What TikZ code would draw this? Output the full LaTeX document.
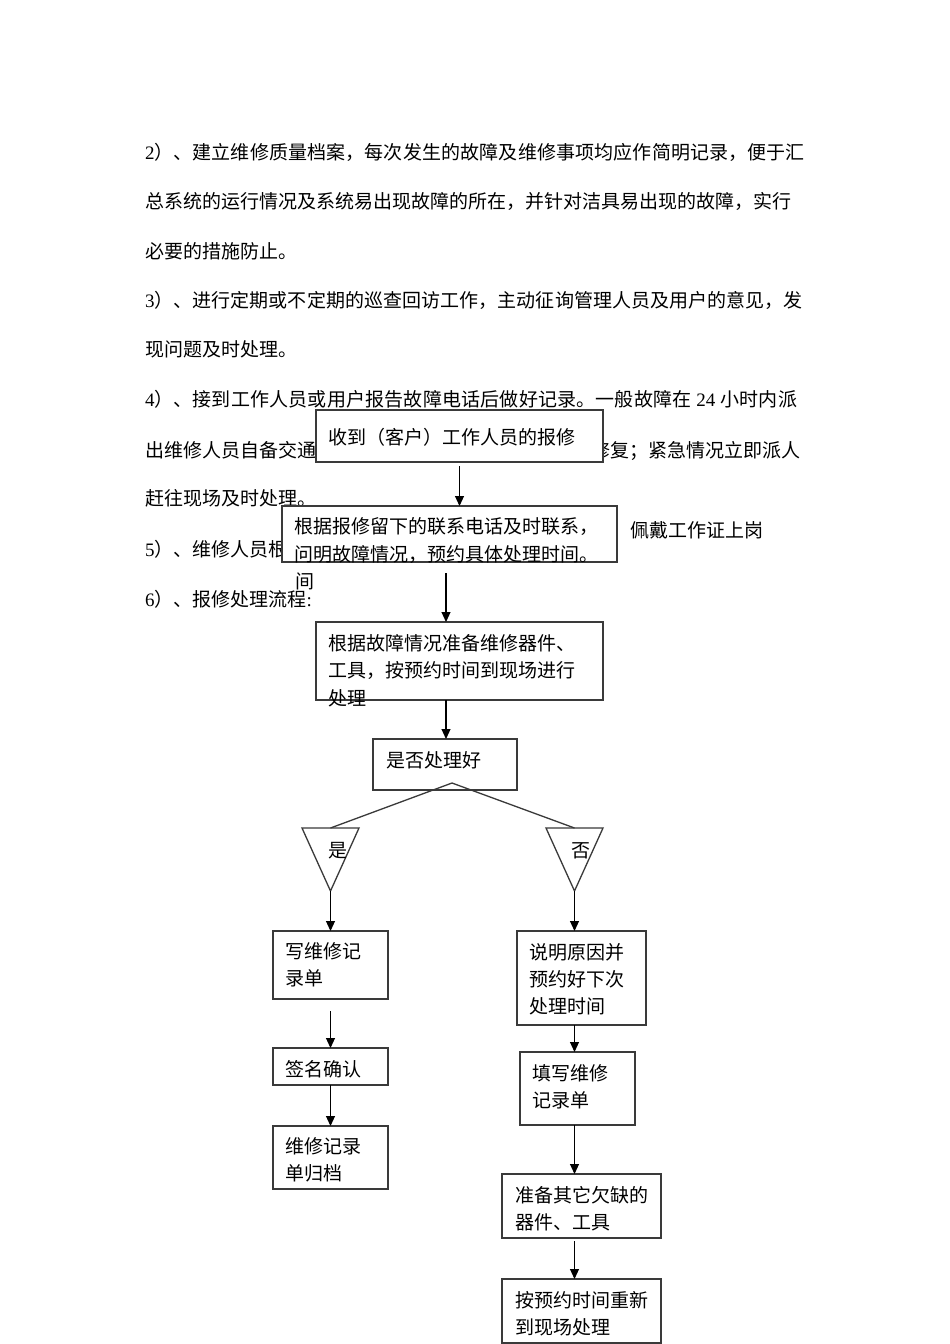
\documentclass[tikz,border=0pt]{standalone}
\usepackage{fontspec}
\setmainfont{Liberation Serif}
\newfontfamily\cjk{Noto Sans CJK SC}
\usetikzlibrary{arrows.meta}
\XeTeXlinebreaklocale "zh"
\XeTeXlinebreakskip=0pt plus 1pt
\newcommand\rmn[1]{{\rmfamily #1}}
\definecolor{edgegray}{HTML}{3A3A3A}
\begin{document}
\begin{tikzpicture}[x=1pt,y=-1pt,
  every node/.style={inner sep=0pt, outer sep=0pt},
  txt/.style={anchor=base west, font=\cjk\fontsize{19}{27}\selectfont},
  jtxt/.style={txt, text width=#1, align=justify},
  mtxt/.style={txt, text width=360pt, align=left},
  box/.style={draw=edgegray, line width=1.5pt, fill=white},
  arr/.style={line width=1.1pt, -{Triangle[length=10pt,width=9pt]}},
  ln/.style={line width=1.3pt, draw=edgegray},
]
\fill[white] (0,0) rectangle (950,1344);
\useasboundingbox (0,0) rectangle (950,1344);

% body text
\node[jtxt=660pt] (l1) at (145,159) {{\parfillskip=0pt \rmn{2}）、建立维修质量档案，每次发生的故障及维修事项均应作简明记录，便于汇\par}};
\node[txt] (l2) at (145,208) {总系统的运行情况及系统易出现故障的所在，并针对洁具易出现的故障，实行};
\node[txt] (l3) at (145,258) {必要的措施防止。};
\node[jtxt=658pt] (l4) at (145,307) {{\parfillskip=0pt \rmn{3}）、进行定期或不定期的巡查回访工作，主动征询管理人员及用户的意见，发\par}};
\node[txt] (l5) at (145,356) {现问题及时处理。};
\node[jtxt=652pt] (l6) at (145,406) {{\parfillskip=0pt \rmn{4}）、接到工作人员或用户报告故障电话后做好记录。一般故障在\hspace{5pt}\rmn{24}\hspace{5pt}小时内派\par}};
\node[txt] (l7a) at (145,457) {出维修人员自备交通};
\node[txt] (l7b) at (591,457) {修复；紧急情况立即派人};
\node[txt] (l8) at (145,505) {赶往现场及时处理。};
\node[txt] (l9) at (145,556) {\rmn{5}）、维修人员根};
\node[txt] (l9b) at (630,537) {佩戴工作证上岗};
\node[txt] (l9c) at (295,588) {间};
\node[txt] (l10) at (145,606) {\rmn{6}）、报修处理流程\rmn{:}};

% boxes
\node[box, minimum width=287pt, minimum height=52pt] (b1) at (459.5,436) {};
\node[box, minimum width=335pt, minimum height=56pt] (b2) at (449.5,534) {};
\node[box, minimum width=287pt, minimum height=78pt] (b3) at (459.5,661) {};
\node[box, minimum width=144pt, minimum height=51pt] (b4) at (445,764.5) {};
\node[box, minimum width=115pt, minimum height=68pt] (bl1) at (330.5,965) {};
\node[box, minimum width=115pt, minimum height=37pt] (bl2) at (330.5,1066.5) {};
\node[box, minimum width=115pt, minimum height=63pt] (bl3) at (330.5,1157.5) {};
\node[box, minimum width=129pt, minimum height=94pt] (br1) at (581.5,978) {};
\node[box, minimum width=115pt, minimum height=73pt] (br2) at (577.5,1088.5) {};
\node[box, minimum width=159pt, minimum height=64pt] (br3) at (581.5,1206) {};
\node[box, minimum width=159pt, minimum height=64pt] (br4) at (581.5,1311) {};

% box texts
\node[txt] (t1) at (328,444) {收到（客户）工作人员的报修};
\node[mtxt, font=\cjk\fontsize{19}{28}\selectfont] (t2) at (294,533) {根据报修留下的联系电话及时联系，\\问明故障情况，预约具体处理时间。};
\node[mtxt, font=\cjk\fontsize{19}{27.5}\selectfont] (t3) at (328,650) {根据故障情况准备维修器件、\\工具，按预约时间到现场进行\\处理};
\node[txt] (t4) at (386,767) {是否处理好};
\node[mtxt] (tl1) at (285,958) {写维修记\\录单};
\node[txt] (tl2) at (285,1076) {签名确认};
\node[mtxt] (tl3) at (285,1153) {维修记录\\单归档};
\node[mtxt] (tr1) at (529,959) {说明原因并\\预约好下次\\处理时间};
\node[mtxt] (tr2) at (532,1080) {填写维修\\记录单};
\node[mtxt] (tr3) at (515,1202) {准备其它欠缺的\\器件、工具};
\node[mtxt] (tr4) at (515,1307) {按预约时间重新\\到现场处理};

% connectors
\coordinate (a1s) at (459.5,466);
\draw[arr] (a1s) -- (a1s |- b2.north);
\coordinate (a2s) at (446,573);
\draw[arr] (a2s) -- (a2s |- b3.north);
\coordinate (a3x) at (446,0);
\draw[arr] (b3.south -| a3x) -- (b4.north -| a3x);

% decision split
\coordinate (dsplit) at (452,783);
\coordinate (tL1) at (302,828);
\coordinate (tL2) at (359,828);
\coordinate (tLm) at (330.5,828);
\coordinate (tLa) at (330.5,891);
\coordinate (tR1) at (546,828);
\coordinate (tR2) at (603,828);
\coordinate (tRm) at (574.5,828);
\coordinate (tRa) at (574.5,891);
\draw[ln] (dsplit) -- (tLm);
\draw[ln] (dsplit) -- (tRm);
\draw[ln, line join=miter] (tL1) -- (tL2) -- (tLa) -- cycle;
\draw[ln, line join=miter] (tR1) -- (tR2) -- (tRa) -- cycle;
\node[txt] (yes) at (328,857) {是};
\node[txt] (no) at (571,857) {否};

\draw[arr] (tLa) -- (tLa |- bl1.north);
\draw[arr] (tRa) -- (tRa |- br1.north);

\coordinate (a6s) at (330.5,1011);
\draw[arr] (a6s) -- (a6s |- bl2.north);
\draw[arr] (bl2.south) -- (bl3.north);

\draw[arr] (br1.south -| tRa) -- (br2.north -| tRa);
\draw[arr] (br2.south -| tRa) -- (br3.north -| tRa);
\coordinate (a10s) at (574.5,1241);
\draw[arr] (a10s) -- (a10s |- br4.north);
\end{tikzpicture}
\end{document}
